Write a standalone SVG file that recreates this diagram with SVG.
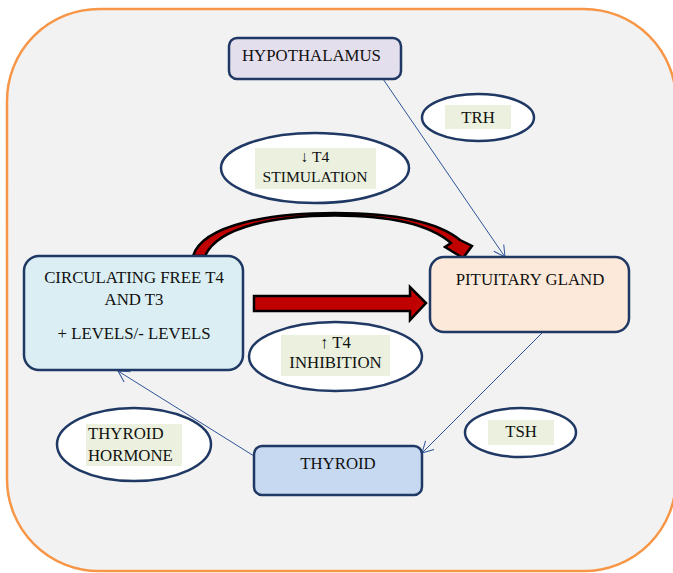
<svg xmlns="http://www.w3.org/2000/svg" width="673" height="573" viewBox="0 0 673 573">
<defs>
<style>
.box{stroke:#1f3864;stroke-width:2.5}
.ell{fill:#ffffff;stroke:#1f3864;stroke-width:2.5}
.hl{fill:#ebf1de}
.t{font-family:"Liberation Serif","Times New Roman",serif;font-size:16.8px;fill:#111111}
.s{font-size:15.6px}
.c{text-anchor:middle}
.conn{stroke:#2e5597;stroke-width:1;fill:none}
.red{fill:#c00000;stroke:#000000;stroke-width:2.5;stroke-linejoin:miter}
</style>
<marker id="open" markerWidth="14" markerHeight="14" refX="12" refY="7" orient="auto" markerUnits="userSpaceOnUse">
<path d="M1,1 L12,7 L1,13" fill="none" stroke="#2e5597" stroke-width="1"/>
</marker>
</defs>
<rect x="0" y="0" width="673" height="573" fill="#ffffff"/>
<rect id="frame" x="7" y="9" width="669" height="562" rx="92" ry="92" fill="#f2f2f2" stroke="#f79646" stroke-width="2.5"/>

<g id="connectors">
<line class="conn" x1="383" y1="79" x2="505" y2="257" marker-end="url(#open)"/>
<line class="conn" x1="543" y1="332" x2="422" y2="453" marker-end="url(#open)"/>
<line class="conn" x1="254" y1="456" x2="118" y2="371" marker-end="url(#open)"/>
<path id="straight-arrow" class="red" d="M254,296 L410,296 L410,287 L426,303 L410,320 L410,311 L254,311 Z"/>
<path id="curved-arrow" class="red" d="M193,256 C203,224 272,213 335,213 C395,213 438,222 460,240 L472,246 L463,258 L445,247 L451,243 C430,225 392,215.5 335,215.5 C278,215.5 218,226 205,256 Z"/>
</g>

<g id="hypothalamus">
<rect class="box" x="229" y="38" width="172" height="41" rx="8" fill="#e4dfec"/>
<text class="t" x="242" y="61">HYPOTHALAMUS</text>
</g>

<g id="trh">
<ellipse class="ell" cx="478" cy="117.5" rx="56" ry="23.5"/>
<rect class="hl" x="445" y="105" width="66" height="24"/>
<text class="t c" x="478" y="123">TRH</text>
</g>

<g id="t4-stimulation">
<ellipse class="ell" cx="315" cy="168" rx="94" ry="35"/>
<rect class="hl" x="255" y="148" width="121" height="41"/>
<text class="t c s" x="315" y="162">↓ T4</text>
<text class="t c s" x="315" y="182">STIMULATION</text>
</g>

<g id="circulating">
<rect class="box" x="24" y="256" width="219" height="114" rx="15" fill="#daeef3"/>
<text class="t c" x="134" y="283">CIRCULATING FREE T4</text>
<text class="t c" x="134" y="305">AND T3</text>
<text class="t c" x="134" y="339">+ LEVELS/- LEVELS</text>
</g>

<g id="pituitary">
<rect class="box" x="430" y="257" width="199" height="75" rx="14" fill="#fde9d9"/>
<text class="t c" x="530" y="285">PITUITARY GLAND</text>
</g>

<g id="t4-inhibition">
<ellipse class="ell" cx="335.5" cy="356.5" rx="86.5" ry="34.5"/>
<rect class="hl" x="281" y="335" width="109" height="41"/>
<text class="t c" x="335.5" y="348">↑ T4</text>
<text class="t c" x="335.5" y="368">INHIBITION</text>
</g>

<g id="thyroid-hormone">
<ellipse class="ell" cx="134" cy="444.5" rx="77" ry="36.5"/>
<rect class="hl" x="86" y="424" width="96" height="42"/>
<text class="t" x="88" y="439">THYROID</text>
<text class="t" x="88" y="461">HORMONE</text>
</g>

<g id="thyroid">
<rect class="box" x="254" y="446" width="168" height="49" rx="8" fill="#c6d9f1"/>
<text class="t c" x="338" y="469">THYROID</text>
</g>

<g id="tsh">
<ellipse class="ell" cx="520.5" cy="432.5" rx="55.5" ry="24.5"/>
<rect class="hl" x="488" y="420" width="66" height="25"/>
<text class="t c" x="521" y="437">TSH</text>
</g>
</svg>
